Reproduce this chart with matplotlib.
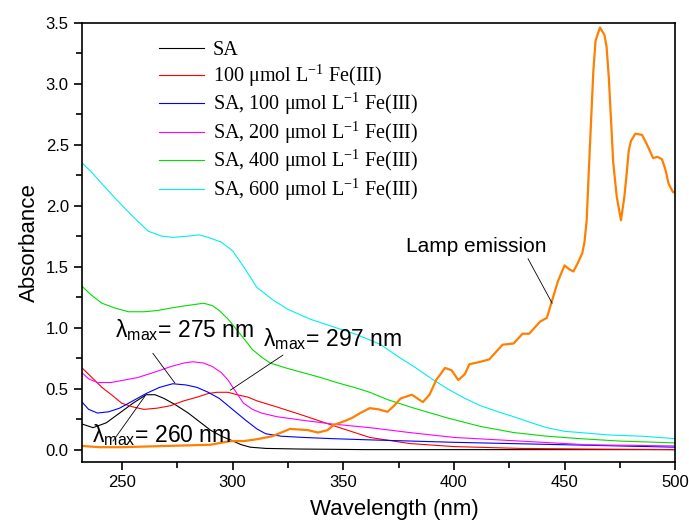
import numpy as np
import matplotlib
matplotlib.use('Agg')
import matplotlib.pyplot as plt
from matplotlib.ticker import MultipleLocator

plt.rcParams['font.family'] = ['Liberation Sans', 'DejaVu Sans']
plt.rcParams['mathtext.fontset'] = 'dejavusans'

# spectra (wavelength nm, absorbance)
sa_x = [232, 237, 243, 249, 255, 261, 265, 269, 274, 280, 285, 290, 295, 299, 304, 308, 315, 330, 360, 400, 450, 500]
sa_y = [0.21, 0.18, 0.22, 0.30, 0.38, 0.45, 0.45, 0.42, 0.37, 0.30, 0.23, 0.16, 0.11, 0.08, 0.04, 0.02, 0.01, 0.005, 0.0, 0.0, 0.0, 0.0]

fe_x = [232, 236, 241, 246, 250, 255, 260, 266, 272, 278, 284, 289, 293, 298, 302, 307, 311, 320, 332, 345, 362, 380, 400, 430, 460, 500]
fe_y = [0.67, 0.60, 0.51, 0.44, 0.38, 0.35, 0.33, 0.34, 0.36, 0.40, 0.43, 0.46, 0.47, 0.47, 0.45, 0.43, 0.40, 0.35, 0.28, 0.20, 0.10, 0.05, 0.025, 0.01, 0.005, 0.0]

sa100_x = [232, 235, 239, 244, 249, 255, 261, 267, 273, 279, 284, 289, 294, 300, 306, 311, 315, 322, 332, 345, 362, 400, 450, 500]
sa100_y = [0.39, 0.33, 0.30, 0.31, 0.34, 0.40, 0.46, 0.51, 0.54, 0.53, 0.51, 0.47, 0.42, 0.33, 0.24, 0.17, 0.13, 0.11, 0.10, 0.09, 0.08, 0.06, 0.04, 0.02]

sa200_x = [232, 235, 239, 245, 251, 257, 264, 272, 278, 282, 287, 291, 295, 298, 302, 305, 309, 313, 320, 332, 345, 362, 380, 400, 430, 460, 500]
sa200_y = [0.63, 0.58, 0.55, 0.55, 0.57, 0.59, 0.63, 0.68, 0.71, 0.72, 0.71, 0.68, 0.63, 0.57, 0.46, 0.38, 0.33, 0.30, 0.27, 0.24, 0.21, 0.18, 0.14, 0.10, 0.07, 0.04, 0.03]

sa400_x = [232, 236, 241, 247, 253, 260, 266, 272, 279, 287, 291, 294, 298, 302, 306, 309, 313, 317, 324, 332, 340, 347, 355, 362, 370, 382, 397, 412, 427, 442, 457, 475, 500]
sa400_y = [1.34, 1.27, 1.20, 1.16, 1.13, 1.13, 1.14, 1.16, 1.18, 1.20, 1.18, 1.14, 1.07, 0.98, 0.89, 0.82, 0.76, 0.71, 0.67, 0.63, 0.59, 0.55, 0.51, 0.47, 0.41, 0.34, 0.26, 0.19, 0.14, 0.11, 0.09, 0.07, 0.055]

sa600_x = [232, 236, 240, 247, 255, 262, 268, 273, 280, 285, 289, 295, 300, 305, 311, 318, 325, 335, 345, 355, 362, 367, 375, 382, 390, 397, 405, 412, 420, 427, 435, 442, 450, 457, 470, 485, 500]
sa600_y = [2.35, 2.28, 2.20, 2.06, 1.91, 1.79, 1.75, 1.74, 1.75, 1.76, 1.74, 1.70, 1.63, 1.50, 1.33, 1.23, 1.15, 1.07, 1.01, 0.95, 0.90, 0.86, 0.76, 0.68, 0.58, 0.50, 0.42, 0.36, 0.31, 0.27, 0.22, 0.18, 0.15, 0.14, 0.12, 0.11, 0.09]

lamp_x = [232, 240, 250, 260, 270, 280, 290, 296, 299, 305, 311, 318, 322, 326, 330, 334, 338.6, 343, 345.5, 351.5, 354, 357.7, 362, 366, 370, 373, 376, 381, 386, 389,
          392, 396, 399, 402, 405, 407, 412, 416, 419, 422, 427, 431, 434, 439, 442, 444, 447, 450, 452, 454, 456, 458, 459, 460, 461, 462, 463, 464, 466, 468, 469,
          470, 471, 472, 473.6, 475.5, 477, 478, 479, 480, 482, 485, 487, 490, 492, 494, 495.5, 497, 499, 500]
lamp_y = [0.03, 0.02, 0.02, 0.025, 0.03, 0.035, 0.04, 0.06, 0.07, 0.07, 0.085, 0.11, 0.14, 0.17, 0.165, 0.16, 0.14, 0.16, 0.20, 0.24, 0.26, 0.30, 0.34, 0.33, 0.31, 0.36, 0.42, 0.45, 0.39, 0.45,
          0.57, 0.67, 0.65, 0.57, 0.62, 0.70, 0.72, 0.74, 0.80, 0.86, 0.87, 0.95, 0.95, 1.05, 1.08, 1.20, 1.38, 1.51, 1.48, 1.46, 1.53, 1.61, 1.70, 1.88, 2.30, 2.70, 3.10, 3.35, 3.46, 3.40, 3.30,
          3.05, 2.70, 2.35, 2.07, 1.88, 2.07, 2.25, 2.45, 2.53, 2.59, 2.58, 2.51, 2.39, 2.40, 2.38, 2.30, 2.18, 2.11, 2.11]

labels = ['SA',
          '100 \u03bcmol L$^{\\mathregular{-1}}$ Fe(III)',
          'SA, 100 \u03bcmol L$^{\\mathregular{-1}}$ Fe(III)',
          'SA, 200 \u03bcmol L$^{\\mathregular{-1}}$ Fe(III)',
          'SA, 400 \u03bcmol L$^{\\mathregular{-1}}$ Fe(III)',
          'SA, 600 \u03bcmol L$^{\\mathregular{-1}}$ Fe(III)']
colors = ['#000000', '#ff0000', '#0000ff', '#ff00ff', '#00dd00', '#00eeee']
series = [(sa_x, sa_y), (fe_x, fe_y), (sa100_x, sa100_y), (sa200_x, sa200_y), (sa400_x, sa400_y), (sa600_x, sa600_y)]

fig = plt.figure(figsize=(6.89, 5.26), dpi=100)
ax = fig.add_axes([0.119, 0.122, 0.861, 0.835])

for (x, y), c, lab in zip(series, colors, labels):
    ax.plot(x, y, color=c, lw=0.8, label=lab)
ax.plot(lamp_x, lamp_y, color='#ff7f00', lw=1.6)

ax.set_xlim(232, 500)
ax.set_ylim(-0.1, 3.5)
ax.xaxis.set_major_locator(MultipleLocator(50))
ax.xaxis.set_minor_locator(MultipleLocator(25))
ax.yaxis.set_major_locator(MultipleLocator(0.5))
ax.yaxis.set_minor_locator(MultipleLocator(0.25))
ax.yaxis.set_major_formatter(matplotlib.ticker.FormatStrFormatter('%.1f'))
ax.tick_params(which='both', top=False, right=False, direction='out', width=1.2, labelsize=12)
ax.tick_params(which='major', length=6)
ax.tick_params(which='minor', length=4)
for s in ax.spines.values():
    s.set_linewidth(1.2)
ax.set_xlabel('Wavelength (nm)', fontsize=16)
ax.xaxis.set_label_coords(0.526, -0.085)
ax.set_ylabel('Absorbance', fontsize=16, labelpad=4)

leg = ax.legend(loc='upper left', bbox_to_anchor=(0.11, 0.985), frameon=False,
                prop={'family': ['Liberation Serif', 'DejaVu Serif'], 'size': 14.5},
                handlelength=2.2, labelspacing=0.08, handletextpad=0.45, borderaxespad=0.2)

line_kw = dict(arrowstyle='-', lw=0.6, color='k', shrinkA=0, shrinkB=0)
ann_size = 16.5

# lambda max labels and their leader lines
ax.text(246.9, 0.92, '\u03bb$_{\\mathregular{max}}$= 275 nm', fontsize=ann_size, va='baseline')
ax.annotate('', xy=(274, 0.545), xytext=(264, 0.79), arrowprops=line_kw)

ax.text(313.8, 0.85, '\u03bb$_{\\mathregular{max}}$= 297 nm', fontsize=ann_size, va='baseline')
ax.annotate('', xy=(299, 0.487), xytext=(322.8, 0.775), arrowprops=line_kw)

ax.text(236.3, 0.06, '\u03bb$_{\\mathregular{max}}$= 260 nm', fontsize=ann_size, va='baseline')
ax.annotate('', xy=(260.5, 0.44), xytext=(246, 0.07), arrowprops=line_kw)

ax.text(378.4, 1.62, 'Lamp emission', fontsize=15, va='baseline')
ax.annotate('', xy=(444.4, 1.20), xytext=(433.5, 1.565), arrowprops=line_kw)

fig.savefig('out.png', dpi=100)
